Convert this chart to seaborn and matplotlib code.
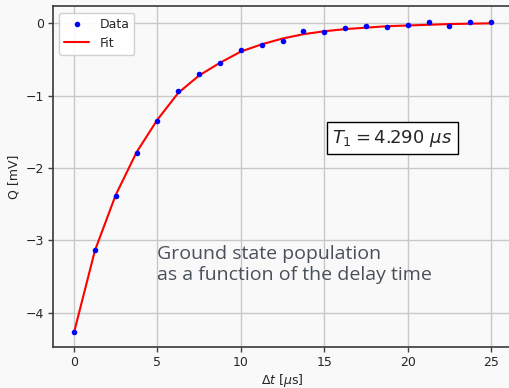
import matplotlib
matplotlib.use("Agg")
import matplotlib.pyplot as plt
import seaborn as sns
import pandas as pd

# delay times (us) and measured Q (mV)
delay = [0, 1.25, 2.5, 3.75, 5, 6.25, 7.5, 8.75, 10, 11.25, 12.5,
         13.75, 15, 16.25, 17.5, 18.75, 20, 21.25, 22.5, 23.75, 25]
q_data = [-4.26, -3.13, -2.38, -1.785, -1.35, -0.93, -0.70, -0.553, -0.37, -0.30, -0.25,
          -0.11, -0.125, -0.06, -0.037, -0.05, -0.028, 0.018, -0.033, 0.022, 0.014]
q_fit = [-4.27, -3.14, -2.37, -1.78, -1.33, -0.96, -0.72, -0.545, -0.39, -0.29, -0.21,
         -0.15, -0.11, -0.08, -0.06, -0.04, -0.03, -0.02, -0.01, -0.005, 0.0]
t1_label = r"$T_1 = 4.290\ \mu s$"
caption = "Ground state population\nas a function of the delay time"

df = pd.DataFrame({"t": delay, "data": q_data, "fit": q_fit})

sns.set_style("whitegrid")
plt.rcParams["font.family"] = ["DejaVu Sans"]
plt.rcParams["font.size"] = 9

bg = "#f9f9f9"
fig = plt.figure(figsize=(5.1, 3.88), dpi=100, facecolor=bg)
ax = fig.add_axes([0.1043, 0.1052, 0.8996, 0.8784])
ax.set_facecolor(bg)

sns.scatterplot(data=df, x="t", y="data", color="blue", s=16, linewidth=0,
                label="Data", ax=ax, zorder=3)
sns.lineplot(data=df, x="t", y="fit", color="red", linewidth=1.5,
             label="Fit", ax=ax, zorder=2)

ax.set_xlim(-1.25, 26.25)
ax.set_ylim(-4.4743, 0.2343)
ax.set_xticks([0, 5, 10, 15, 20, 25])
ax.set_yticks([0, -1, -2, -3, -4])
ax.set_yticklabels(["0", "\u22121", "\u22122", "\u22123", "\u22124"])
ax.set_xlabel(r"$\Delta t$ [$\mu$s]", fontsize=9, labelpad=2)
ax.set_ylabel("Q [mV]", fontsize=9)
ax.tick_params(labelsize=9, length=3.5, width=1, color="#444444",
               left=True, bottom=True, pad=3)
ax.grid(True, color="#c8c8c8", linewidth=1)
for s in ax.spines.values():
    s.set_color("#3a3a3a")
    s.set_linewidth(1.2)

leg = ax.legend(loc="upper left", fontsize=9, frameon=True, facecolor="white",
                edgecolor="#cccccc", framealpha=0.9)

ax.text(19.07, -1.59, t1_label, fontsize=13, ha="center", va="center",
        bbox=dict(boxstyle="square,pad=0.3", facecolor="white", edgecolor="black"))

fig.text(157 / 510, 1 - 245 / 388, caption, fontsize=14.0, color="#4a5058",
         family=["Open Sans", "DejaVu Sans"], ha="left", va="top", linespacing=1.18)

fig.savefig("out.png", dpi=100, facecolor=bg)
